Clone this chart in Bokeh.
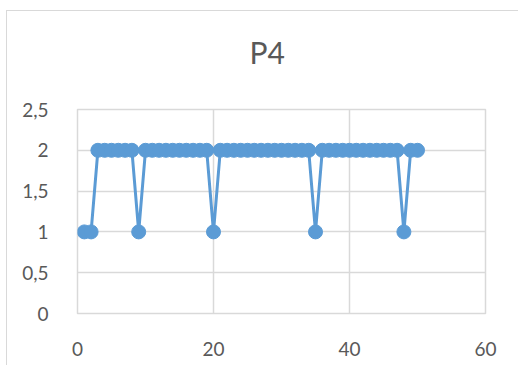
from bokeh.plotting import figure
from bokeh.models import Range1d, FixedTicker, Title
from bokeh.embed import file_html
from bokeh.resources import INLINE

# Data
x_vals = list(range(1, 51))
p4_vals = [1, 1, 2, 2, 2, 2, 2, 2, 1, 2,
           2, 2, 2, 2, 2, 2, 2, 2, 2, 1,
           2, 2, 2, 2, 2, 2, 2, 2, 2, 2,
           2, 2, 2, 2, 1, 2, 2, 2, 2, 2,
           2, 2, 2, 2, 2, 2, 2, 1, 2, 2]
x_ticks = [0, 20, 40, 60]
y_ticks = [0, 0.5, 1, 1.5, 2, 2.5]
y_tick_labels = {0: "0", 0.5: "0,5", 1: "1", 1.5: "1,5", 2: "2", 2.5: "2,5"}
title_text = "P4"

BLUE = "#5B9BD5"
GRID = "#D9D9D9"
TXT = "#595959"
FONT = "Lato"

p = figure(width=512, height=355, output_backend="svg", toolbar_location=None,
           x_range=Range1d(0, 60), y_range=Range1d(0, 2.5),
           min_border_left=70, min_border_right=36, min_border_top=98, min_border_bottom=55,
           margin=(10, 0, 0, 6))
p.styles = {"border": "1px solid #D9D9D9", "box-sizing": "content-box"}

p.title.text = title_text
p.title.align = "left"
p.title.offset = 172
p.title.text_font = FONT
p.title.text_font_size = "30px"
p.title.text_font_style = "normal"
p.title.text_color = TXT

# spacer between title and plot area
p.add_layout(Title(text=" ", text_font_size="21px", text_color="white"), "above")

p.line(x_vals, p4_vals, line_color=BLUE, line_width=3)
p.scatter(x_vals, p4_vals, size=14, fill_color=BLUE, line_color=BLUE)

p.xaxis.ticker = FixedTicker(ticks=x_ticks)
p.yaxis.ticker = FixedTicker(ticks=y_ticks)
p.yaxis.major_label_overrides = y_tick_labels
for ax in (p.xaxis, p.yaxis):
    ax.axis_line_color = None
    ax.major_tick_line_color = None
    ax.minor_tick_line_color = None
    ax.major_label_text_font = FONT
    ax.major_label_text_font_size = "19px"
    ax.major_label_text_color = TXT
p.yaxis.major_label_standoff = 23
p.xaxis.major_label_standoff = 22

p.xgrid.ticker = FixedTicker(ticks=x_ticks)
p.ygrid.ticker = FixedTicker(ticks=y_ticks)
p.xgrid.grid_line_color = GRID
p.ygrid.grid_line_color = GRID
p.xgrid.grid_line_width = 1.5
p.ygrid.grid_line_width = 1.5
p.outline_line_color = GRID
p.outline_line_width = 1.5
p.background_fill_color = "white"
p.border_fill_color = "white"

open("out.html", "w").write(file_html(p, INLINE))
